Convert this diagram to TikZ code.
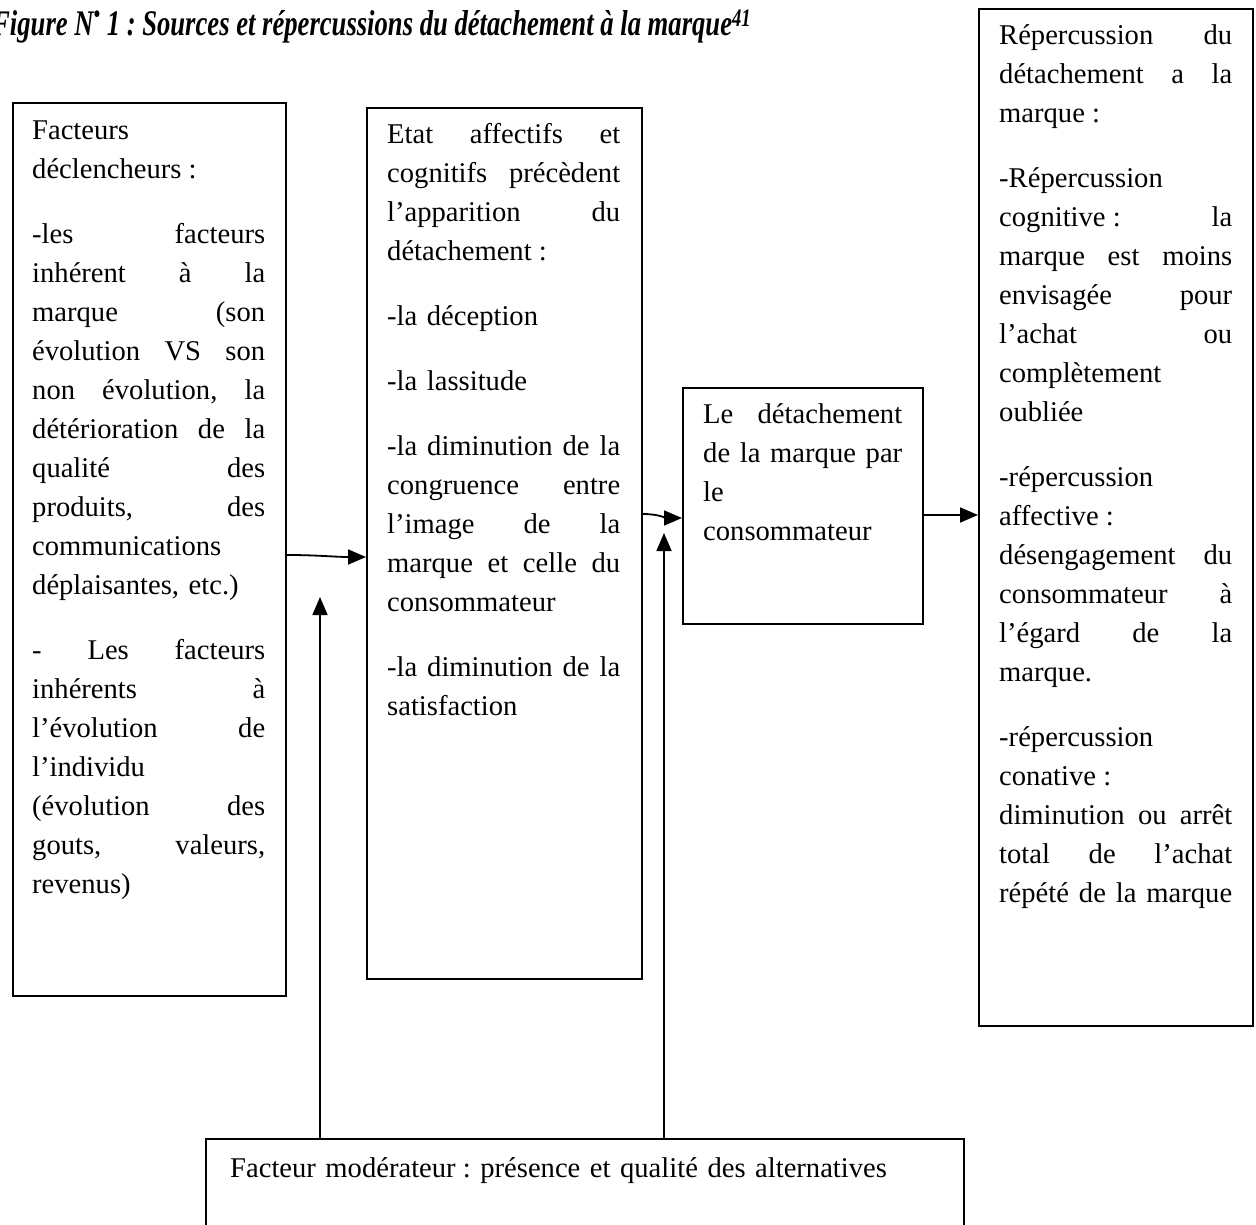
\documentclass[tikz,border=0pt]{standalone}
\usepackage{fontspec}
\setmainfont{Liberation Serif}
\usetikzlibrary{arrows.meta}
\frenchspacing
% a fully justified line of the box text (column width as optional argument)
\newcommand\jl[2][233pt]{\leavevmode\hbox to #1{\spaceskip=\fontdimen2\font plus 1fil\relax #2}}
% fixed space before a colon
\newcommand\cs{\hspace{0.25em}}
% first-line strut
\newcommand\fs{\rule{0pt}{24pt}}
\begin{document}
\begin{tikzpicture}[x=1pt,y=-1pt,
  box/.style={draw, line width=1.8pt, anchor=north west, inner sep=0pt},
  txt/.style={anchor=north west, inner sep=0pt, align=left,
    text width=#1, font=\fontsize{28.6}{39}\selectfont,
    execute at begin node={\setlength{\parindent}{0pt}}},
  arr/.style={line width=1.8pt, -{Triangle[length=18pt,width=15pt]}}]
\useasboundingbox (0,0) rectangle (1256,1225);
\clip (0,0) rectangle (1256,1225);
\fill[white] (0,0) rectangle (1256,1225);

% heading
\node[anchor=base west, inner sep=0pt] (title) at (-8,36)
  {\scalebox{0.74}[1]{\fontsize{36}{36}\selectfont\bfseries\itshape
   Figure N\raisebox{0.38em}{\scalebox{0.7}{•}} 1 : Sources et répercussions du détachement à la marque\textsuperscript{41}}};

% boxes
\node[box, minimum width=273pt, minimum height=893pt] (b1) at (12,102) {};
\node[box, minimum width=275pt, minimum height=871pt] (b2) at (366,107) {};
\node[box, minimum width=240pt, minimum height=236pt] (b3) at (682,387) {};
\node[box, minimum width=274pt, minimum height=1017pt] (b4) at (978,8) {};
\node[box, minimum width=758pt, minimum height=140pt] (b5) at (205,1138) {};

% texts
\node[txt=233pt] (t1) at (32,115) {\fs Facteurs\\
déclencheurs\cs:\\[26pt]
\jl{-les facteurs}\\
\jl{inhérent à la}\\
\jl{marque (son}\\
\jl{évolution VS son}\\
\jl{non évolution, la}\\
\jl{détérioration de la}\\
\jl{qualité des}\\
\jl{produits, des}\\
communications\\
déplaisantes, etc.)\\[26pt]
\jl{- Les facteurs}\\
\jl{inhérents à}\\
\jl{l’évolution de}\\
l’individu\\
\jl{(évolution des}\\
\jl{gouts, valeurs,}\\
revenus)};

\node[txt=233pt] (t2) at (387,119) {\fs\jl{Etat affectifs et}\\
\jl{cognitifs précèdent}\\
\jl{l’apparition du}\\
détachement\cs:\\[26pt]
-la déception\\[26pt]
-la lassitude\\[26pt]
\jl{-la diminution de la}\\
\jl{congruence entre}\\
\jl{l’image de la}\\
\jl{marque et celle du}\\
consommateur\\[26pt]
\jl{-la diminution de la}\\
satisfaction};

\node[txt=199pt] (t3) at (703,399) {\fs\jl[199pt]{Le détachement}\\
\jl[199pt]{de la marque par}\\
le\\
consommateur};

\node[txt=233pt] (t4) at (999,20) {\fs\jl{Répercussion du}\\
\jl{détachement a la}\\
marque\cs:\\[26pt]
-Répercussion\\
\jl{cognitive\cs: la}\\
\jl{marque est moins}\\
\jl{envisagée pour}\\
\jl{l’achat ou}\\
complètement\\
oubliée\\[26pt]
-répercussion\\
affective\cs:\\
\jl{désengagement du}\\
\jl{consommateur à}\\
\jl{l’égard de la}\\
marque.\\[26pt]
-répercussion\\
conative\cs:\\
\jl{diminution ou arrêt}\\
\jl{total de l’achat}\\
\jl{répété de la marque}};

\node[txt=700pt] (t5) at (230,1153) {\fs Facteur modérateur\cs: présence et qualité des alternatives};

% connectors
\coordinate (y12s) at (0,555);
\coordinate (y12e) at (0,557);
\coordinate (y23s) at (0,514);
\coordinate (y23e) at (0,518);
\coordinate (y34) at (0,515);
\draw[arr] (b1.east |- y12s) to[out=0,in=180] (b2.west |- y12e);
\draw[arr] (b2.east |- y23s) to[out=0,in=180] (b3.west |- y23e);
\draw[arr] (b3.east |- y34) -- (b4.west |- y34);
\coordinate (m1) at (320,597);
\coordinate (m2) at (664,533);
\draw[arr] (b5.north -| m1) -- (m1);
\draw[arr] (b5.north -| m2) -- (m2);
\end{tikzpicture}
\end{document}
